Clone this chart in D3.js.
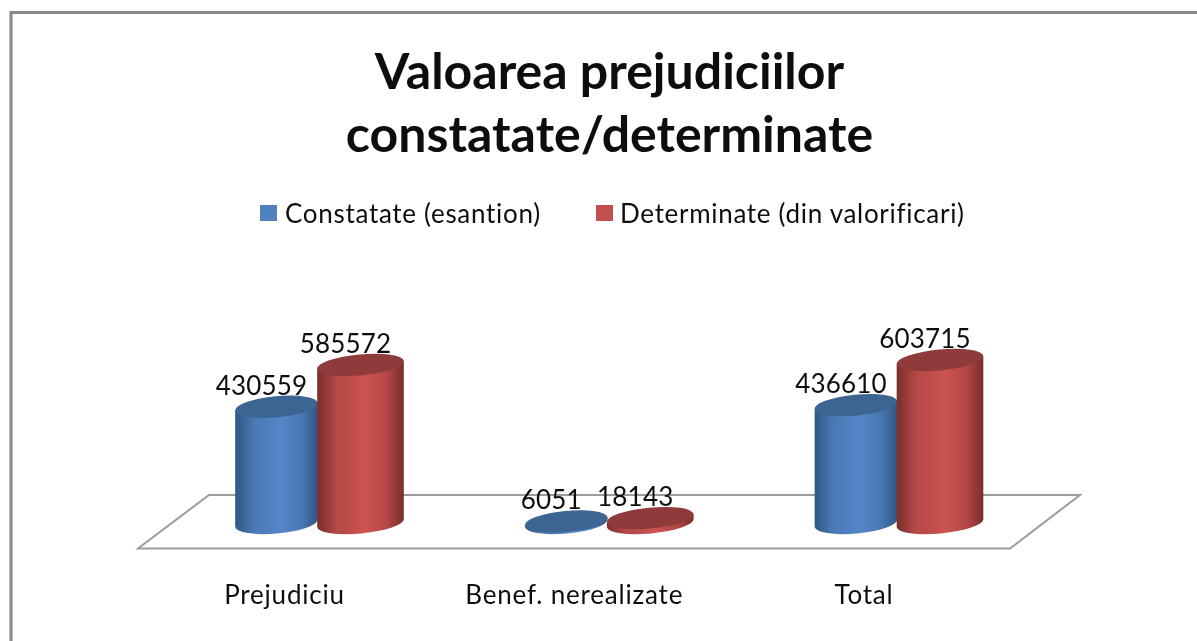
<!DOCTYPE html>
<html><head><meta charset="utf-8">
<script src="https://cdn.jsdelivr.net/npm/d3@7"></script>
<style>html,body{margin:0;padding:0;background:#fff;overflow:hidden}svg{display:block}text{font-family:Lato,"Open Sans",sans-serif;fill:#111}</style>
</head><body><svg id="c" width="1197" height="641"></svg>
<script>
const categories = ["Prejudiciu", "Benef. nerealizate", "Total"];
const seriesNames = ["Constatate (esantion)", "Determinate (din valorificari)"];
const constatate = [430559, 6051, 436610];
const determinate = [585572, 18143, 603715];
const titleLines = ["Valoarea prejudiciilor", "constatate/determinate"];
const seriesColors = [
  {edge:"#2f5685", mid:"#5586c8", top:"#3c6592", sq:"#4f81bd"},
  {edge:"#7a2d2c", mid:"#cd5351", top:"#8f3b3a", sq:"#c0504d"}
];

const svg = d3.select("#c");
const defs = svg.append("defs");
defs.append("filter").attr("id","soft").attr("x","-5%").attr("y","-5%").attr("width","110%").attr("height","110%")
  .append("feGaussianBlur").attr("stdDeviation",0.45);
seriesColors.forEach((c,i)=>{
  const g = defs.append("linearGradient").attr("id","g"+i).attr("x1",0).attr("x2",1).attr("y1",0).attr("y2",0);
  [[0,c.edge],[0.22,d3.interpolateRgb(c.edge,c.mid)(0.7)],[0.55,c.mid],[0.8,d3.interpolateRgb(c.edge,c.mid)(0.7)],[1,c.edge]]
    .forEach(([o,col])=>g.append("stop").attr("offset",o).attr("stop-color",col));
});

// frame
svg.append("path").attr("d","M11,641V12.5H1197").attr("fill","none").attr("stroke","#8a8a8a").attr("stroke-width",3.2);

// scales
const x = d3.scalePoint().domain(categories).range([318.5,898]);
const offset = d3.scaleOrdinal().domain([0,1]).range([-42,42]);
const y = d3.scaleLinear().domain([0,600000]).range([523,361]);

// floor
svg.append("path").attr("d","M209,495H1080L1010,548.5H138Z").attr("fill","#fff").attr("stroke","#9c9c9c").attr("stroke-width",2);

const rxs=[41.5,43.5], ry=10.5, tilt=5.3, rad=tilt*Math.PI/180;
const marks = svg.append("g").attr("filter","url(#soft)");
const rows = categories.flatMap((c,i)=>[
  {c,s:0,v:constatate[i]},{c,s:1,v:determinate[i]}
]);
rows.forEach(d=>{
  const cx=x(d.c)+offset(d.s), rx=rxs[d.s], dx=rx*Math.cos(rad), dy=rx*Math.sin(rad);
  const y0=y(0), y1=y(d.v);
  marks.append("path")
    .attr("d",`M${cx-dx},${y1+dy}L${cx-dx},${y0+dy}A${rx},${ry} ${-tilt} 0 0 ${cx+dx},${y0-dy}L${cx+dx},${y1-dy}Z`)
    .attr("fill",`url(#g${d.s})`);
  marks.append("ellipse").attr("cx",cx).attr("cy",y1).attr("rx",rx).attr("ry",ry)
    .attr("transform",`rotate(${-tilt} ${cx} ${y1})`).attr("fill",seriesColors[d.s].top);
});

const txt = svg.append("g").attr("filter","url(#soft)");
rows.forEach(d=>{
  const cx=x(d.c)+offset(d.s);
  txt.append("text").attr("x",cx-15).attr("y",y(d.v)-12).attr("text-anchor","middle")
    .attr("font-size",26).attr("letter-spacing",0.2).text(d.v);
});

// category labels
categories.forEach(c=>{
  txt.append("text").attr("x",x(c)-34).attr("y",604).attr("font-size",26).attr("letter-spacing",0.8)
    .attr("text-anchor","middle").text(c);
});

// title
titleLines.forEach((t,i)=>{
  txt.append("text").attr("x",609.5).attr("y",[89,152][i]).attr("text-anchor","middle")
    .attr("font-size",50).attr("font-weight",700).attr("fill","#000").text(t);
});

// legend
const legX=[260,596], legT=[285,620];
seriesNames.forEach((s,i)=>{
  svg.append("rect").attr("x",legX[i]).attr("y",205).attr("width",17).attr("height",16).attr("fill",seriesColors[i].sq);
  txt.append("text").attr("x",legT[i]).attr("y",223).attr("font-size",26).attr("letter-spacing",0.7).text(s);
});
</script></body></html>
